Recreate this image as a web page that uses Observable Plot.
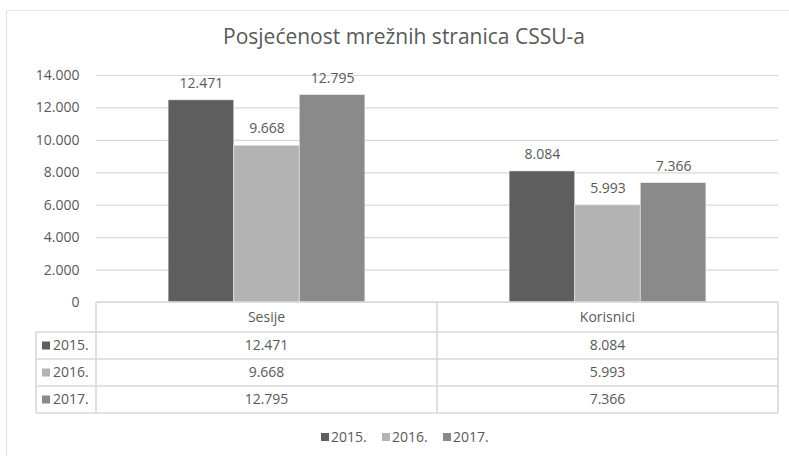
<!DOCTYPE html>
<html>
<head>
<meta charset="utf-8">
<script src="https://cdn.jsdelivr.net/npm/d3@7"></script>
<script src="https://cdn.jsdelivr.net/npm/@observablehq/plot@0.6"></script>
<style>
  html, body { margin: 0; padding: 0; background: #fff; }
  #chart { position: relative; width: 789px; height: 456px; overflow: hidden; }
  #chart svg { position: absolute; left: 0; top: 0; }
</style>
</head>
<body>
<div id="chart"></div>
<script>
const title = "Posjećenost mrežnih stranica CSSU-a";
const categories = ["Sesije", "Korisnici"];
const years = ["2015.", "2016.", "2017."];
const sesije = [12471, 9668, 12795];
const korisnici = [8084, 5993, 7366];
const colors = ["#5e5e5e", "#b3b3b3", "#8a8a8a"];
const yTicks = [0, 2000, 4000, 6000, 8000, 10000, 12000, 14000];

const series = {Sesije: sesije, Korisnici: korisnici};
const data = [];
for (const c of categories) years.forEach((y, i) => data.push({cat: c, year: y, value: series[c][i]}));

const locale = d3.formatLocale({decimal: ",", thousands: ".", grouping: [3], currency: ["", ""]});
const fmt = locale.format(",d");

const FONT = "'Open Sans', sans-serif";
const TXT = "#595959";
const LINE = "#d9d9d9";

const W = 789, H = 456;
const plot = Plot.plot({
  width: W, height: H,
  marginTop: 75, marginBottom: 154, marginLeft: 95, marginRight: 11,
  style: {fontFamily: FONT, fontSize: "14px", color: TXT, background: "transparent"},
  fx: {domain: categories, paddingInner: 0, paddingOuter: 0, axis: null, label: null},
  x: {domain: years, paddingInner: 0, paddingOuter: 1.1, round: false, axis: null},
  y: {domain: [0, 14000], axis: null},
  color: {domain: years, range: colors},
  marks: [
    Plot.gridY(yTicks, {stroke: LINE, strokeOpacity: 1, strokeWidth: 1.2}),
    Plot.axisY(yTicks, {tickSize: 0, tickPadding: 17, tickFormat: fmt, fill: TXT, fontSize: 14, label: null}),
    Plot.barY(data, {fx: "cat", x: "year", y: "value", fill: "year", stroke: "#ffffff", strokeOpacity: 0.6, strokeWidth: 0.8}),
    Plot.text(data, {fx: "cat", x: "year", y: "value", text: d => fmt(d.value), dy: -17, fill: TXT, fontSize: 14})
  ]
});

document.getElementById("chart").appendChild(plot);

const svg = d3.select(plot);
const fxs = plot.scale("fx");
const ys = plot.scale("y");
const bw = fxs.bandwidth;
const colL = fxs.apply(categories[0]);
const colR = fxs.apply(categories[categories.length - 1]) + bw;
const top0 = ys.apply(0);
const headerH = 30, rowH = 27;
const labelL = 36;
const tableBottom = top0 + headerH + rowH * years.length;

const g = svg.append("g").attr("font-family", FONT).attr("font-size", 14).attr("fill", TXT).attr("text-anchor", "start");

// outer chart border (top + left)
g.append("line").attr("x1", 6.5).attr("x2", W).attr("y1", 10.5).attr("y2", 10.5).attr("stroke", "#e3e3e3").attr("stroke-width", 1.2);
g.append("line").attr("x1", 6.5).attr("x2", 6.5).attr("y1", 10.5).attr("y2", H).attr("stroke", "#e3e3e3").attr("stroke-width", 1.2);

// title
g.append("text").attr("x", 404).attr("y", 44).attr("text-anchor", "middle").attr("font-size", 21).text(title);

// data table lines
const lines = g.append("g").attr("stroke", LINE).attr("stroke-width", 1.6);
lines.append("line").attr("x1", colL).attr("x2", colR).attr("y1", top0).attr("y2", top0);
for (let r = 0; r <= years.length; r++) {
  const yy = top0 + headerH + r * rowH;
  lines.append("line").attr("x1", labelL).attr("x2", colR).attr("y1", yy).attr("y2", yy);
}
lines.append("line").attr("x1", labelL).attr("x2", labelL).attr("y1", top0 + headerH).attr("y2", tableBottom);
for (const c of categories) {
  const x0 = fxs.apply(c);
  lines.append("line").attr("x1", x0).attr("x2", x0).attr("y1", top0).attr("y2", tableBottom);
}
lines.append("line").attr("x1", colR).attr("x2", colR).attr("y1", top0).attr("y2", tableBottom);

// header texts
for (const c of categories) {
  g.append("text").attr("x", fxs.apply(c) + bw / 2).attr("y", top0 + headerH / 2).attr("dy", "0.35em")
    .attr("text-anchor", "middle").text(c);
}
// rows
years.forEach((y, i) => {
  const cy = top0 + headerH + i * rowH + rowH / 2;
  g.append("rect").attr("x", labelL + 6).attr("y", cy - 4).attr("width", 8).attr("height", 8).attr("fill", colors[i]);
  g.append("text").attr("x", labelL + 17).attr("y", cy).attr("dy", "0.35em").attr("text-anchor", "start").text(y);
  for (const c of categories) {
    g.append("text").attr("x", fxs.apply(c) + bw / 2).attr("y", cy).attr("dy", "0.35em")
      .attr("text-anchor", "middle").text(fmt(series[c][i]));
  }
});

// legend
const legY = 437;
let lx = 321;
years.forEach((y, i) => {
  g.append("rect").attr("x", lx).attr("y", legY - 4).attr("width", 8).attr("height", 8).attr("fill", colors[i]);
  g.append("text").attr("x", lx + 10).attr("y", legY).attr("dy", "0.35em").attr("text-anchor", "start").text(y);
  lx += 61;
});
</script>
</body>
</html>
